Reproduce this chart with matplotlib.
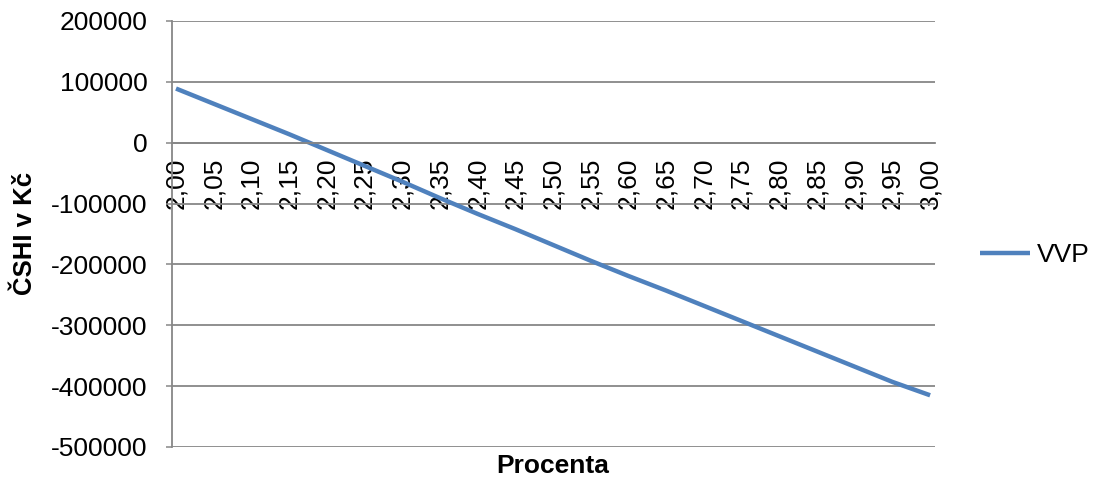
import numpy as np
import matplotlib
matplotlib.use('Agg')
import matplotlib.pyplot as plt

plt.rcParams['font.family'] = ['Liberation Sans', 'DejaVu Sans']

# interest rate categories and the resulting value
procenta = ['2,00', '2,05', '2,10', '2,15', '2,20', '2,25', '2,30', '2,35', '2,40',
            '2,45', '2,50', '2,55', '2,60', '2,65', '2,70', '2,75', '2,80', '2,85',
            '2,90', '2,95', '3,00']
vvp = [89000, 64000, 39000, 14000, -12000, -38000, -64000, -91000, -117000,
       -142000, -168000, -194000, -219000, -243000, -268000, -293000, -318000,
       -343000, -368000, -393000, -415000]
y_ticks = [200000, 100000, 0, -100000, -200000, -300000, -400000, -500000]

grid_col = '#878787'

fig = plt.figure(figsize=(10.96, 4.83), dpi=100)
ax = fig.add_axes([172/1096, 1-447/483, (935-172)/1096, (447-21)/483])

# spine positions first - moving a spine resets the tick settings
ax.spines['top'].set_visible(False)
ax.spines['right'].set_visible(False)
ax.spines['bottom'].set_position(('data', 0))
ax.spines['bottom'].set_color(grid_col)
ax.spines['bottom'].set_linewidth(1.3)
ax.spines['left'].set_color(grid_col)
ax.spines['left'].set_linewidth(1.3)

x = np.arange(len(procenta))
ax.plot(x, vvp, c='#4F81BD', linewidth=3.2, label='VVP', solid_capstyle='butt')

ax.set_xlim(-0.106, 20.13)
ax.set_ylim(-500000, 200000)
ax.set_yticks(y_ticks)
ax.set_yticklabels([str(v) for v in y_ticks], fontsize=19)
ax.yaxis.grid(True, color=grid_col, linewidth=1.3)
ax.set_axisbelow(True)

ax.set_xticks(x)
ax.set_xticklabels(procenta, rotation=90, fontsize=19, va='top')
ax.tick_params(axis='x', length=0, pad=11)
ax.tick_params(axis='y', length=4.5, width=1.1, color=grid_col, pad=13)

fig.text(553/1096, 1-466/483, 'Procenta', fontsize=19, fontweight='bold',
         ha='center', va='center')
fig.text(25/1096, 1-233/483, 'ČSHI v Kč', fontsize=18.5, fontweight='bold',
         rotation=90, ha='center', va='center')

ax.legend(loc='center left', bbox_to_anchor=(1.045, 0.45), frameon=False,
          fontsize=19, handlelength=1.9, handletextpad=0.25, borderaxespad=0)

plt.savefig('out.png', dpi=100)
